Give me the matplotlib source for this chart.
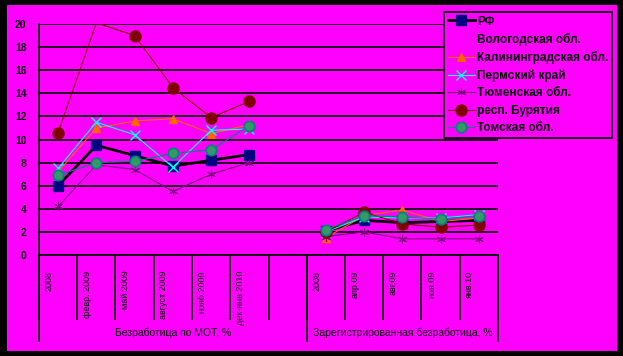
import numpy as np
import matplotlib
matplotlib.use('Agg')
import matplotlib.pyplot as plt
from matplotlib.patches import Rectangle
from matplotlib.transforms import ScaledTranslation

plt.rcParams['font.family'] = ['Liberation Sans', 'DejaVu Sans']

# categories (two groups with an empty slot between them)
cats_mot = ['2008', 'февр. 2009', 'май 2009', 'август 2009', 'нояб.2009', 'дек-янв 2010']
cats_reg = ['2008', 'апр.09', 'авг.09', 'ноя.09', 'янв.10']
group_labels = ['Безработица по МОТ, %', 'Зарегистрированная безработица, %']

# values: MOT unemployment / registered unemployment
rf_mot = [6.0, 9.5, 8.6, 7.7, 8.2, 8.7]
rf_reg = [2.1, 3.0, 2.8, 2.9, 3.0]
kalin_mot = [7.2, 11.0, 11.6, 11.8, 10.5, 11.3]
kalin_reg = [1.5, 3.4, 3.9, 2.9, 3.2]
perm_mot = [7.5, 11.5, 10.4, 7.6, 10.8, 10.9]
perm_reg = [2.0, 3.3, 3.2, 3.2, 3.5]
tyumen_mot = [4.2, 7.8, 7.4, 5.5, 7.0, 8.0]
tyumen_reg = [1.6, 2.0, 1.4, 1.4, 1.4]
buryat_mot = [10.6, 20.1, 19.0, 14.5, 11.9, 13.3]
buryat_reg = [2.0, 3.7, 2.7, 2.4, 2.6]
tomsk_mot = [6.9, 8.0, 8.1, 8.8, 9.1, 11.2]
tomsk_reg = [2.2, 3.4, 3.3, 3.1, 3.4]

yticks = list(range(0, 21, 2))

W, H = 623, 356
fig = plt.figure(figsize=(W / 100, H / 100), dpi=100, facecolor='black')
fig.patches.append(Rectangle((7 / W, 5 / H), 610 / W, 346 / H, transform=fig.transFigure,
                             facecolor='#FF00FF', edgecolor='none', zorder=-5))

ax = fig.add_axes([39 / W, 1 - 255 / H, 459 / W, 231 / H])
ax.set_facecolor('#FF00FF')

labels_all = cats_mot + [''] + cats_reg
x = np.arange(len(labels_all))


def join(a, b):
    return np.array(a + [np.nan] + b, dtype=float)


series = [
    ('РФ', join(rf_mot, rf_reg), dict(color='black', lw=2, marker='s', ms=7,
                                     mfc='#000080', mec='#000080')),
    ('Калининградская обл.', join(kalin_mot, kalin_reg), dict(color='#FF6600', lw=0.8, marker='^', ms=5.5,
                                                              mfc='#FF6600', mec='#FF6600')),
    ('Пермский край', join(perm_mot, perm_reg), dict(color='#00FFFF', lw=0.8, marker='x', ms=6.5,
                                                     mec='#00FFFF', mew=1)),
    ('Тюменская обл.', join(tyumen_mot, tyumen_reg), dict(color='#800080', lw=0.8, marker=(6, 2, 0), ms=6.5,
                                                          mec='#800080', mew=0.8)),
    ('респ. Бурятия', join(buryat_mot, buryat_reg), dict(color='#800000', lw=0.8, marker='o', ms=8,
                                                         mfc='#800000', mec='#800000',
                                                         markevery=[0, 2, 3, 4, 5, 7, 8, 9, 10, 11])),
    ('Томская обл.', join(tomsk_mot, tomsk_reg), dict(color='#008080', lw=0.8, marker='o', ms=7.5,
                                                      mfc='#339966', mec='#008080', mew=1.2)),
]

ax.yaxis.grid(True, color='black', lw=1.2)
ax.set_axisbelow(True)

handles = {}
for name, vals, kw in series:
    h, = ax.plot(x, vals, **kw)
    handles[name] = h
# Вологодская обл. is listed in the legend but not drawn
handles['Вологодская обл.'], = ax.plot([], [], color='none')

ax.set_xlim(-0.5, len(labels_all) - 0.5)
ax.set_ylim(0, 20)
ax.set_yticks(yticks)
ax.tick_params(axis='y', length=0, pad=9, labelsize=7.5)
for t in ax.get_yticklabels():
    t.set_fontweight('bold')

for s in ['top', 'right']:
    ax.spines[s].set_visible(False)
ax.spines['left'].set_linewidth(1.2)
ax.spines['bottom'].set_linewidth(1.2)

# category boundaries as long downward ticks
ax.set_xticks(np.arange(-0.5, len(labels_all), 1.0))
ax.set_xticklabels([])
ax.tick_params(axis='x', direction='out', length=47, width=1.2, color='black')

trans = ax.get_xaxis_transform()
shift = ScaledTranslation(-9 / 100, 0, fig.dpi_scale_trans)
for xi, lab in zip(x, labels_all):
    ax.text(xi, -0.068, lab, rotation=90, ha='center', va='top', fontsize=6.5,
            transform=trans + shift)

# group separators and labels
for xs in [-0.5, 6.5, 11.5]:
    ax.plot([xs, xs], [0, -0.372], color='black', lw=1.2, transform=trans, clip_on=False)
ax.text(3.0, -0.335, group_labels[0], ha='center', va='center', fontsize=7.5, transform=trans)
ax.text(9.0, -0.335, group_labels[1], ha='center', va='center', fontsize=7.5, transform=trans)

order = ['РФ', 'Вологодская обл.', 'Калининградская обл.', 'Пермский край',
         'Тюменская обл.', 'респ. Бурятия', 'Томская обл.']
leg = ax.legend([handles[n] for n in order], order, loc='upper left',
                bbox_to_anchor=(444 / W, 1 - 12 / H), bbox_transform=fig.transFigure,
                borderaxespad=0, frameon=True, fancybox=False, framealpha=1,
                facecolor='#FF00FF', edgecolor='black',
                handlelength=2.3, handletextpad=0.2, labelspacing=0.45, borderpad=0.3,
                prop={'weight': 'bold', 'size': 8.5})
leg.get_frame().set_linewidth(1.2)

fig.savefig('out.png', dpi=100, facecolor=fig.get_facecolor())
